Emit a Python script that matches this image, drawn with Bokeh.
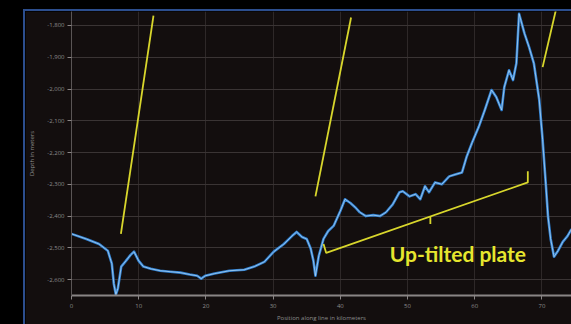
from bokeh.plotting import figure
from bokeh.embed import file_html
from bokeh.resources import INLINE
from bokeh.layouts import column, row
from bokeh.models import Spacer, FixedTicker, NumeralTickFormatter, Range1d
from bokeh.core.properties import value

# ---- data ----
position_km = [0.0, 2.2, 4.1, 5.4, 6.0, 6.3, 6.6, 6.9, 7.4, 8.1, 8.8, 9.3, 10.0, 10.7,
               11.8, 13.2, 14.7, 16.2, 17.6, 18.7, 19.3, 19.9, 21.3, 23.5, 25.7, 27.2,
               28.7, 30.1, 31.6, 32.8, 33.5, 34.3, 35.0, 35.6, 36.0, 36.3, 36.8, 37.5,
               38.2, 39.0, 40.0, 40.7, 41.5, 42.2, 42.9, 43.8, 44.9, 45.9, 46.8, 47.8,
               48.8, 49.3, 50.3, 51.2, 51.9, 52.6, 53.2, 54.1, 55.1, 56.2, 57.1, 58.1,
               58.8, 59.6, 60.6, 61.5, 62.5, 63.2, 64.0, 64.4, 65.1, 65.7, 66.2, 66.6,
               67.4, 68.1, 68.8, 69.6, 70.1, 70.6, 70.9, 71.3, 71.8, 72.4, 73.1, 73.8, 74.4]
depth_m = [-2456, -2472, -2488, -2509, -2550, -2613, -2647, -2628, -2559, -2541, -2522,
           -2512, -2541, -2559, -2566, -2572, -2575, -2578, -2584, -2588, -2597, -2588,
           -2581, -2572, -2569, -2559, -2544, -2512, -2488, -2463, -2450, -2466, -2472,
           -2503, -2541, -2588, -2525, -2472, -2447, -2431, -2384, -2347, -2359, -2372,
           -2388, -2400, -2397, -2400, -2388, -2363, -2325, -2322, -2338, -2331, -2347,
           -2306, -2325, -2294, -2300, -2275, -2269, -2263, -2213, -2169, -2119, -2066,
           -2003, -2025, -2066, -1994, -1941, -1972, -1919, -1763, -1825, -1869, -1919,
           -2034, -2159, -2306, -2400, -2472, -2528, -2509, -2481, -2463, -2441]

x_ticks = [0, 10, 20, 30, 40, 50, 60, 70]
y_ticks = [-2600, -2500, -2400, -2300, -2200, -2100, -2000, -1900, -1800]

# annotation strokes (yellow)
slash_x = [[7.35, 12.2], [36.3, 41.6], [70.1, 72.4]]
slash_y = [[-2456, -1769], [-2338, -1775], [-1931, -1722]]
bracket_x = [37.5, 37.9, 67.9, 67.9]
bracket_y = [-2488, -2516, -2294, -2259]
bracket_mid_x = [53.4, 53.4]
bracket_mid_y = [-2402, -2425]
label_text = "Up-tilted plate"
label_x = 47.35
label_y = -2519

BG = "#130e0e"
YEL = "#d8d62c"

p = figure(width=546, height=313, output_backend="svg", toolbar_location=None,
           x_range=Range1d(0, 74.4), y_range=Range1d(-2650, -1756),
           min_border_left=40, min_border_right=0, min_border_top=0, min_border_bottom=27,
           background_fill_color=BG, border_fill_color=BG, outline_line_color=None)

p.xaxis.ticker = FixedTicker(ticks=x_ticks)
p.yaxis.ticker = FixedTicker(ticks=y_ticks)
p.yaxis.formatter = NumeralTickFormatter(format="0,0")
p.xgrid.ticker = FixedTicker(ticks=x_ticks)
p.ygrid.ticker = FixedTicker(ticks=y_ticks)
p.xgrid.grid_line_color = "#2e2828"
p.ygrid.grid_line_color = "#3a3434"
p.xgrid.grid_line_width = 1
p.ygrid.grid_line_width = 1

for ax in (p.xaxis, p.yaxis):
    ax.axis_line_color = "#8a8585"
    ax.major_tick_line_color = "#8a8585"
    ax.minor_tick_line_color = None
    ax.major_tick_in = 0
    ax.major_tick_out = 4
    ax.major_label_text_color = "#8c8c8c"
    ax.major_label_text_font = "Open Sans"
    ax.major_label_text_font_size = "6px"
    ax.axis_label_text_color = "#8c8c8c"
    ax.axis_label_text_font = "Open Sans"
    ax.axis_label_text_font_size = "6px"
    ax.axis_label_text_font_style = "normal"
p.xaxis.axis_line_width = 2
p.yaxis.axis_line_color = "#5a5555"
p.xaxis.axis_label = "Position along line in kilometers"
p.yaxis.axis_label = "Depth in meters"
p.xaxis.major_label_standoff = 4
p.xaxis.axis_label_standoff = 3
p.yaxis.major_label_standoff = 3
p.yaxis.axis_label_standoff = 8

# profile line: blue with light core
p.line(position_km, depth_m, line_color="#2f7fd0", line_width=2.6, line_join="round")
p.line(position_km, depth_m, line_color="#b9dcf5", line_width=0.9, line_join="round", line_alpha=0.8)

# annotations
p.multi_line(slash_x, slash_y, line_color=YEL, line_width=1.8)
p.line(bracket_x, bracket_y, line_color=YEL, line_width=1.8)
p.line(bracket_mid_x, bracket_mid_y, line_color=YEL, line_width=1.8)
p.text([label_x], [label_y], text=[label_text], text_color="#e6e62e",
       text_font=value("Lato"), text_font_style="bold", text_font_size="21px",
       text_align="left", text_baseline="alphabetic")

BLACK = "#000000"
BLUE = "#2c4e8e"
layout = column(
    Spacer(width=571, height=9, styles={"background-color": BLACK}),
    row(Spacer(width=23, height=2, styles={"background-color": BLACK}),
        Spacer(width=548, height=2, styles={"background-color": BLUE})),
    row(Spacer(width=23, height=313, styles={"background-color": BLACK}),
        Spacer(width=2, height=313, styles={"background-color": BLUE}),
        p),
    styles={"background-color": BLACK},
)

open("out.html", "w").write(file_html(layout, INLINE))
